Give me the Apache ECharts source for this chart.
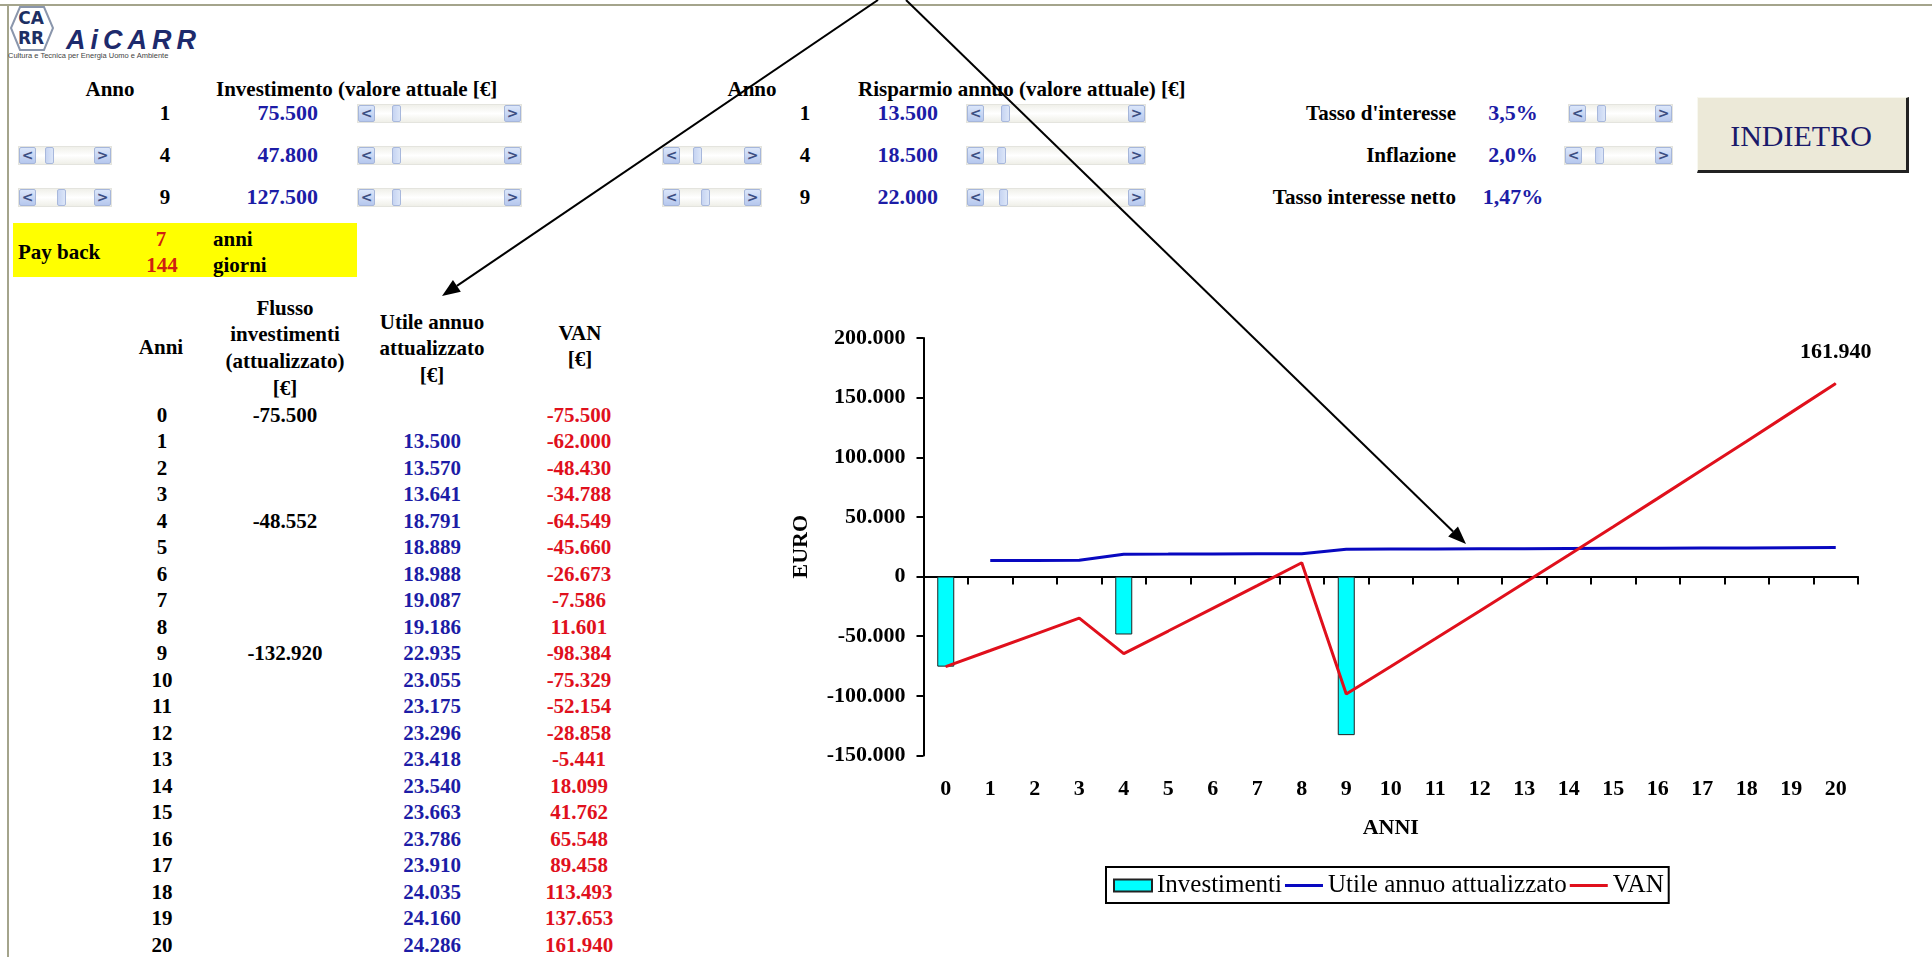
<!DOCTYPE html>
<html><head><meta charset="utf-8">
<script src="https://cdn.jsdelivr.net/npm/echarts@6/dist/echarts.min.js"></script>
<style>
html,body{margin:0;padding:0;background:#fff;width:1932px;height:957px;overflow:hidden;}
#sheet{position:absolute;left:0;top:0;width:1932px;height:957px;font-family:'Liberation Serif','Times New Roman',serif;}
#chart{position:absolute;left:0;top:0;width:1932px;height:957px;pointer-events:none;}
.t{position:absolute;white-space:nowrap;font-weight:bold;color:#000;}
.sb{position:absolute;height:19px;background:linear-gradient(#f0f0ea,#ffffff 50%,#efefe8);border:1px solid #e4e4de;box-sizing:border-box;}
.sb .b{position:absolute;top:0;width:17px;height:17px;background:linear-gradient(#dbe6fa,#b6c8ee);border:1px solid #a6b6da;box-sizing:border-box;border-radius:2px;color:#3c4e82;font:bold 14px 'DejaVu Sans',sans-serif;line-height:15px;text-align:center;}
.sb .th{position:absolute;top:0;width:9px;height:17px;background:linear-gradient(90deg,#c6d4f2,#dce6f8);border:1px solid #a8b8dc;box-sizing:border-box;border-radius:2px;}
</style></head>
<body>
<div id="sheet"></div>
<div id="chart"></div>
<script>
// ---------------- DATA ----------------
const anni = ['0','1','2','3','4','5','6','7','8','9','10','11','12','13','14','15','16','17','18','19','20'];
const investimenti = [-75500, null, null, null, -48552, null, null, null, null, -132920, null, null, null, null, null, null, null, null, null, null, null];
const utile = [null, 13500, 13570, 13641, 18791, 18889, 18988, 19087, 19186, 22935, 23055, 23175, 23296, 23418, 23540, 23663, 23786, 23910, 24035, 24160, 24286];
const van = [-75500, -62000, -48430, -34788, -64549, -45660, -26673, -7586, 11601, -98384, -75329, -52154, -28858, -5441, 18099, 41762, 65548, 89458, 113493, 137653, 161940];
const seriesNames = ['Investimenti', 'Utile annuo attualizzato', 'VAN'];
const yMin = -150000, yMax = 200000, yStep = 50000;
// inputs shown at the top of the sheet
const invAnni = ['1', '4', '9'];
const invValori = [75500, 47800, 127500];
const rispAnni = ['1', '4', '9'];
const rispValori = [13500, 18500, 22000];
const tassiLabel = ["Tasso d'interesse", 'Inflazione', 'Tasso interesse netto'];
const tassiValori = ['3,5%', '2,0%', '1,47%'];
const paybackAnni = '7', paybackGiorni = '144';

// ---------------- helpers ----------------
function fmt(v){ if(v===null||v===undefined) return ''; const s=Math.abs(Math.round(v)).toString().replace(/\B(?=(\d{3})+(?!\d))/g,'.'); return (v<0?'-':'')+s; }
const sheet = document.getElementById('sheet');
function put(text, x, y, o){
  o = o||{};
  const size = o.size||21, lh = Math.round(size*1.2);
  const d = document.createElement('div'); d.className='t'; d.textContent=text;
  d.style.fontSize=size+'px'; d.style.lineHeight=lh+'px'; d.style.top=(y-lh/2)+'px';
  if(o.color) d.style.color=o.color;
  if(o.weight) d.style.fontWeight=o.weight;
  if(o.family) d.style.fontFamily=o.family;
  if(o.style) d.style.fontStyle=o.style;
  if(o.ls) d.style.letterSpacing=o.ls;
  const al=o.align||'left';
  if(al==='left'){ d.style.left=x+'px'; }
  else if(al==='center'){ d.style.left=(x-300)+'px'; d.style.width='600px'; d.style.textAlign='center'; }
  else { d.style.left=(x-600)+'px'; d.style.width='600px'; d.style.textAlign='right'; }
  sheet.appendChild(d); return d;
}
function box(x,y,w,h,css){ const d=document.createElement('div'); d.style.position='absolute'; d.style.left=x+'px'; d.style.top=y+'px'; d.style.width=w+'px'; d.style.height=h+'px'; Object.assign(d.style, css||{}); sheet.appendChild(d); return d; }
function scroll(x1,x2,yc,thumbOff){
  const d=document.createElement('div'); d.className='sb';
  d.style.left=x1+'px'; d.style.width=(x2-x1)+'px'; d.style.top=(yc-9.5)+'px';
  d.innerHTML='<div class="b" style="left:0">&lt;</div><div class="th" style="left:'+thumbOff+'px"></div><div class="b" style="right:0">&gt;</div>';
  sheet.appendChild(d);
}
const BLUE='#1c1ca6', RED='#e0101c';

// frame
box(0,4,1932,2,{background:'#a4a48c'});
box(7,4,2,953,{background:'#a4a48c'});

// logo
sheet.insertAdjacentHTML('beforeend','<svg style="position:absolute;left:0;top:0" width="70" height="60"><polygon points="20,7 44,7 53,28 44,50 20,50 11,28" fill="#fff" stroke="#8a96ac" stroke-width="2"/></svg>');
put('CA',31,18,{align:'center',size:17,family:"'DejaVu Sans',sans-serif",color:'#1d2f63'});
put('RR',31,38,{align:'center',size:17,family:"'DejaVu Sans',sans-serif",color:'#1d2f63'});
put('AiCARR',66,40,{size:27,family:"'Liberation Sans',sans-serif",style:'italic',color:'#1d2a6c',ls:'5px'});
put('Cultura e Tecnica per Energia Uomo e Ambiente',8,55,{size:7.5,weight:'normal',family:"'Liberation Sans',sans-serif",color:'#444'});

// header row
put('Anno',110,89,{align:'center'});
put('Investimento (valore attuale [€]',216,89);
put('Anno',752,89,{align:'center'});
put('Risparmio annuo (valore attuale) [€]',858,89);
const rowY=[113,155,197];
for(let i=0;i<3;i++){
  put(invAnni[i],165,rowY[i],{align:'center'});
  put(fmt(invValori[i]),318,rowY[i],{align:'right',color:BLUE,size:22});
  scroll(357,522,rowY[i],34);
  put(rispAnni[i],805,rowY[i],{align:'center'});
  put(fmt(rispValori[i]),938,rowY[i],{align:'right',color:BLUE,size:22});
  scroll(966,1146,rowY[i],[34,30,32][i]);
  if(i>0){ scroll(18,112,rowY[i],[0,26,38][i]); scroll(662,762,rowY[i],[0,30,38][i]); }
  put(tassiLabel[i],1456,rowY[i],{align:'right'});
  put(tassiValori[i],1513,rowY[i],{align:'center',color:BLUE,size:22});
}
scroll(1568,1673,rowY[0],28);
scroll(1564,1673,rowY[1],30);
// button
box(1697,97,212,76,{background:'#ece9d8',borderTop:'1px solid #f8f8f0',borderLeft:'1px solid #f8f8f0',borderRight:'3px solid #222',borderBottom:'3px solid #222',boxSizing:'border-box'});
put('INDIETRO',1801,136,{align:'center',size:30,weight:'normal',color:'#1a1a6a'});

// payback
box(13,223,344,54,{background:'#ffff00'});
put('Pay back',18,252);
put(paybackAnni,161,239,{align:'center',color:'#d02010'});
put(paybackGiorni,162,265,{align:'center',color:'#d02010'});
put('anni',213,239);
put('giorni',213,265);

// table headers
put('Anni',161,347,{align:'center'});
['Flusso','investimenti','(attualizzato)','[€]'].forEach((s,i)=>put(s,285,308+i*26.7,{align:'center'}));
['Utile annuo','attualizzato','[€]'].forEach((s,i)=>put(s,432,322+i*26.7,{align:'center'}));
['VAN','[€]'].forEach((s,i)=>put(s,580,333+i*26.7,{align:'center'}));
// table rows
anni.forEach((a,k)=>{
  const y=415+k*26.5;
  put(a,162,y,{align:'center'});
  if(investimenti[k]!==null) put(fmt(investimenti[k]),285,y,{align:'center'});
  if(utile[k]!==null) put(fmt(utile[k]),432,y,{align:'center',color:BLUE});
  put(fmt(van[k]),579,y,{align:'center',color:RED});
});

// ---------------- CHART ----------------
const FONT="'Liberation Serif','Times New Roman',serif";
const chart = echarts.init(document.getElementById('chart'), null, {width:1932, height:957});
const lastIdx = van.length-1;
const LINE_ICON = 'path://M0,0 M0,12 M0,4.5 L38,4.5 L38,7.5 L0,7.5 Z';
function arrow(x1,y1,x2,y2){
  const ang=Math.atan2(y2-y1,x2-x1), L=18, W=7;
  const bx=x2-L*Math.cos(ang), by=y2-L*Math.sin(ang);
  return [
    {type:'line',shape:{x1:x1,y1:y1,x2:bx,y2:by},style:{stroke:'#000',lineWidth:2},z:100},
    {type:'polygon',shape:{points:[[x2,y2],[bx+W*Math.sin(ang),by-W*Math.cos(ang)],[bx-W*Math.sin(ang),by+W*Math.cos(ang)]]},style:{fill:'#000'},z:100}
  ];
}
chart.setOption({
  animation:false,
  backgroundColor:'transparent',
  textStyle:{fontFamily:FONT},
  grid:{left:923.5, right:74, top:338, bottom:201.5, containLabel:false},
  legend:{
    left:1106, top:867, orient:'horizontal',
    data:[{name:seriesNames[0], icon:'rect'}, {name:seriesNames[1], icon:LINE_ICON}, {name:seriesNames[2], icon:LINE_ICON}],
    borderColor:'#000', borderWidth:2, padding:[6,5,5,7], itemGap:3,
    itemWidth:38, itemHeight:12, backgroundColor:'#fff',
    textStyle:{fontFamily:FONT, fontSize:25, color:'#000'}
  },
  xAxis:[
    {type:'category', data:anni, boundaryGap:true,
     axisLine:{show:true, onZero:true, lineStyle:{color:'#000', width:2}},
     axisTick:{show:true, length:8, lineStyle:{color:'#000', width:2}},
     axisLabel:{show:false}, splitLine:{show:false}},
    {type:'category', data:anni, position:'bottom', boundaryGap:true,
     axisLine:{show:false, onZero:false}, axisTick:{show:false},
     axisLabel:{show:true, margin:23, fontFamily:FONT, fontWeight:'bold', fontSize:22, color:'#000', interval:0},
     name:'ANNI', nameLocation:'middle', nameGap:62,
     nameTextStyle:{fontFamily:FONT, fontWeight:'bold', fontSize:22, color:'#000'}}
  ],
  yAxis:{
    type:'value', min:yMin, max:yMax, interval:yStep,
    axisLine:{show:true, lineStyle:{color:'#000', width:2}},
    axisTick:{show:true, length:7, lineStyle:{color:'#000', width:2}},
    axisLabel:{margin:18, fontFamily:FONT, fontWeight:'bold', fontSize:22, color:'#000', formatter:v=>fmt(v)},
    splitLine:{show:false},
    name:'EURO', nameLocation:'middle', nameGap:111, nameRotate:90,
    nameTextStyle:{fontFamily:FONT, fontWeight:'bold', fontSize:22, color:'#000'}
  },
  series:[
    {name:seriesNames[0], type:'bar', xAxisIndex:0, data:investimenti, barWidth:17,
     itemStyle:{color:'#00ffff', borderColor:'#222', borderWidth:1}},
    {name:seriesNames[1], type:'line', xAxisIndex:0, data:utile, symbol:'none', connectNulls:false,
     lineStyle:{color:'#0808c0', width:3}, itemStyle:{color:'#0808c0'}},
    {name:seriesNames[2], type:'line', xAxisIndex:0, symbol:'circle', symbolSize:1, showSymbol:true,
     data:van.map((v,i)=> i===lastIdx ? {value:v, label:{show:true}} : v),
     label:{show:false, position:'top', distance:20, formatter:p=>fmt(p.value), fontFamily:FONT, fontWeight:'bold', fontSize:22, color:'#000'},
     lineStyle:{color:RED, width:3}, itemStyle:{color:RED}}
  ],
  graphic: [].concat(arrow(878,0,442,296), arrow(906,0,1466,544))
});
</script>
</body></html>
